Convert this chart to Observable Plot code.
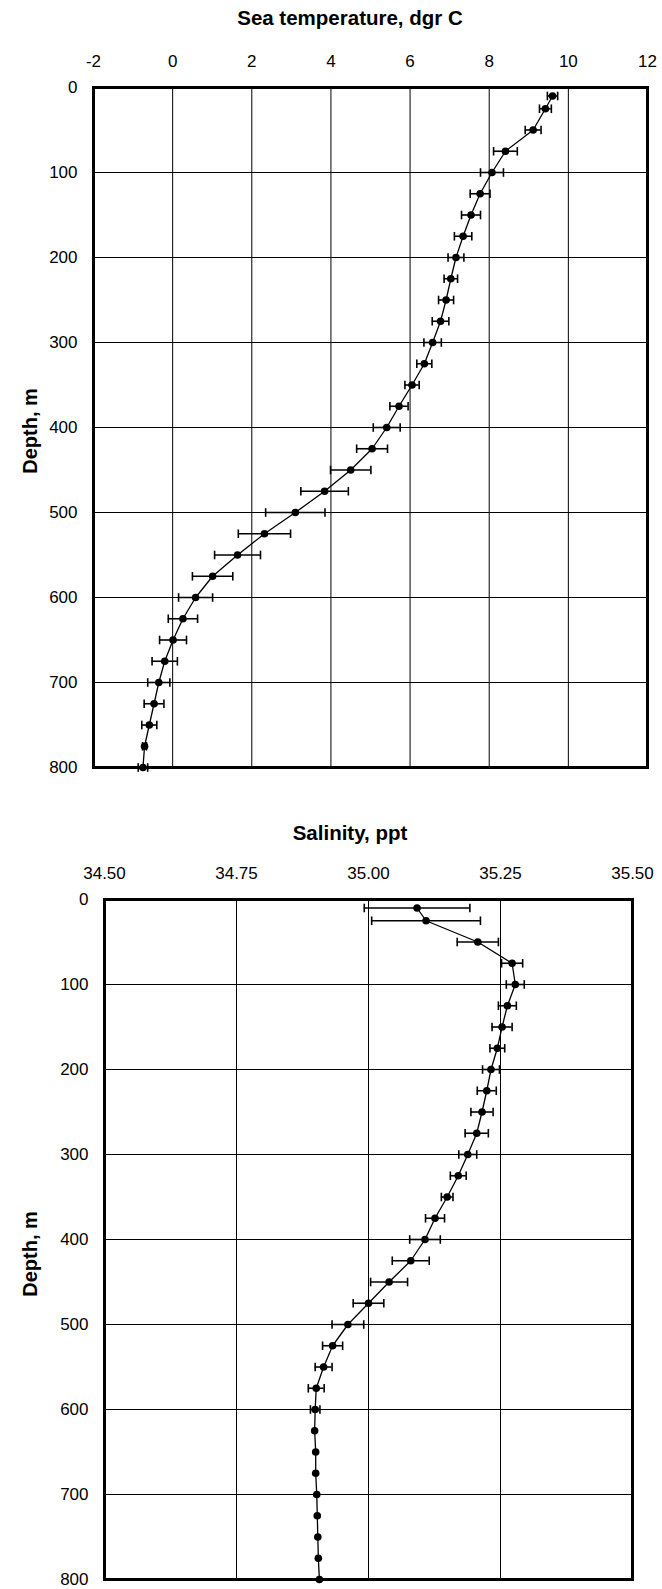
<!DOCTYPE html>
<html><head><meta charset="utf-8">
<script src="https://cdn.jsdelivr.net/npm/d3@7"></script>
<script src="https://cdn.jsdelivr.net/npm/@observablehq/plot@0.6"></script>
<style>
body{margin:0;background:#fff;font-family:"Liberation Sans Narrow","Liberation Sans",Arial,sans-serif;}
#wrap{position:relative;width:662px;height:1589px;overflow:hidden;}
#wrap svg{position:absolute;left:0;}
.title{position:absolute;font-weight:bold;font-size:20.5px;width:400px;text-align:center;line-height:24px;white-space:nowrap;color:#000;}
.ylab{position:absolute;font-weight:bold;font-size:20px;transform:translate(-50%,-50%) rotate(-90deg);white-space:nowrap;color:#000;}
</style></head><body><div id="wrap"></div>
<script>
const depths = [10,25,50,75,100,125,150,175,200,225,250,275,300,325,350,375,400,425,450,475,500,525,550,575,600,625,650,675,700,725,750,775,800];
const tempMean = [9.60,9.42,9.11,8.41,8.07,7.77,7.54,7.34,7.16,7.03,6.91,6.77,6.57,6.36,6.05,5.72,5.41,5.04,4.50,3.84,3.10,2.32,1.64,1.01,0.58,0.26,0.01,-0.20,-0.35,-0.47,-0.59,-0.71,-0.75];
const tempErr = [0.13,0.15,0.20,0.30,0.29,0.25,0.24,0.22,0.20,0.17,0.19,0.21,0.22,0.19,0.18,0.23,0.34,0.39,0.51,0.60,0.75,0.66,0.58,0.51,0.43,0.37,0.34,0.32,0.28,0.25,0.19,0.05,0.12];
const salMean = [35.092,35.109,35.207,35.272,35.278,35.263,35.253,35.244,35.232,35.224,35.215,35.205,35.188,35.170,35.149,35.126,35.107,35.080,35.039,35.000,34.961,34.932,34.915,34.901,34.899,34.898,34.900,34.900,34.902,34.903,34.904,34.905,34.907];
const salErr = [0.100,0.103,0.039,0.020,0.017,0.017,0.019,0.014,0.016,0.018,0.021,0.022,0.017,0.015,0.011,0.018,0.029,0.035,0.035,0.029,0.030,0.019,0.016,0.015,0.009,0,0,0,0,0,0,0,0];
const tempTicks = [-2,0,2,4,6,8,10,12];
const salTicks = [34.50,34.75,35.00,35.25,35.50];
const depthTicks = [0,100,200,300,400,500,600,700,800];

const capSymbol = {draw(ctx, size){ const r = Math.sqrt(size/Math.PI); ctx.moveTo(0,-r); ctx.lineTo(0,r); }};

function profile(mean, err, cfg){
  const rows = depths.map((d,i)=>({depth:d, v:mean[i], lo:mean[i]-err[i], hi:mean[i]+err[i], e:err[i]}));
  const eb = rows.filter(r=>r.e>0);
  const ticks = cfg.ticks;
  return Plot.plot({
    width: 662, height: cfg.height,
    marginTop: cfg.mt, marginBottom: cfg.mb, marginLeft: cfg.ml, marginRight: cfg.mr,
    style: {fontFamily: '"Liberation Sans Narrow", "Liberation Sans", Arial, sans-serif', fontSize: "17px", color: "#000", background: "#fff"},
    x: {domain: [ticks[0], ticks[ticks.length-1]]},
    y: {domain: [0, 800], reverse: true},
    marks: [
      Plot.gridX(ticks.slice(1,-1), {stroke: "#000", strokeOpacity: 1, strokeWidth: 1}),
      Plot.gridY(depthTicks.slice(1,-1), {stroke: "#000", strokeOpacity: 1, strokeWidth: 1}),
      Plot.axisX(ticks, {anchor: "top", tickSize: 0, tickPadding: 21, label: null, tickFormat: cfg.fmt, fontSize: 17}),
      Plot.axisY(depthTicks, {anchor: "left", tickSize: 0, tickPadding: 16, label: null, tickFormat: d => String(d), fontSize: 17}),
      Plot.ruleY(eb, {y: "depth", x1: "lo", x2: "hi", stroke: "#000", strokeWidth: 1.6}),
      Plot.dot(eb, {x: "lo", y: "depth", symbol: capSymbol, r: 4.3, stroke: "#000", strokeWidth: 1.6, fill: "none"}),
      Plot.dot(eb, {x: "hi", y: "depth", symbol: capSymbol, r: 4.3, stroke: "#000", strokeWidth: 1.6, fill: "none"}),
      Plot.line(rows, {x: "v", y: "depth", stroke: "#000", strokeWidth: 1.3}),
      Plot.dot(rows, {x: "v", y: "depth", r: 3.8, fill: "#000", stroke: "none"}),
      Plot.frame({stroke: "#000", strokeWidth: 3})
    ]
  });
}

const wrap = document.getElementById("wrap");
const p1 = profile(tempMean, tempErr, {ticks: tempTicks, height: 790, mt: 87, mb: 23, ml: 93, mr: 15, fmt: d => String(d)});
p1.style.top = "0px";
wrap.appendChild(p1);
const p2 = profile(salMean, salErr, {ticks: salTicks, height: 799, mt: 109, mb: 10, ml: 104, mr: 30, fmt: d3.format(".2f")});
p2.style.top = "790px";
wrap.appendChild(p2);

function addTitle(text, cx, cy){
  const d = document.createElement("div");
  d.className = "title"; d.textContent = text;
  d.style.left = (cx - 200) + "px"; d.style.top = (cy - 12) + "px";
  wrap.appendChild(d);
}
function addYLab(text, x, y){
  const d = document.createElement("div");
  d.className = "ylab"; d.textContent = text;
  d.style.left = x + "px"; d.style.top = y + "px";
  wrap.appendChild(d);
}
addTitle("Sea temperature, dgr C", 350, 18);
addYLab("Depth, m", 30, 431);
addTitle("Salinity, ppt", 350, 833);
addYLab("Depth, m", 30, 1254);
</script>
</body></html>
